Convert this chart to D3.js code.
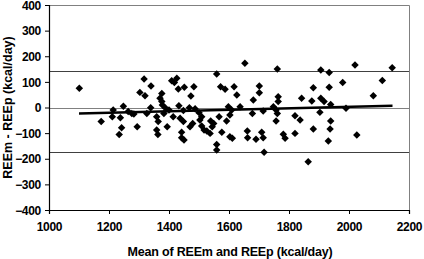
<!DOCTYPE html>
<html><head><meta charset="utf-8">
<script src="https://cdn.jsdelivr.net/npm/d3@7"></script>
<style>html,body{margin:0;padding:0;background:#fff;}svg{display:block;}</style>
</head><body>
<script>
const meanVals = [1101,1174,1211,1214,1238,1248,1242,1234,1264,1276,1283,1294,1303,1317,1320,1340,1326,1339,1359,1364,1359,1363,1376,1370,1376,1378,1389,1400,1409,1426,1418,1431,1451,1483,1473,1383,1394,1414,1433,1437,1448,1442,1442,1450,1468,1487,1470,1479,1448,1503,1509,1509,1517,1526,1537,1544,1539,1549,1559,1572,1587,1617,1626,1701,1701,1681,1598,1609,1637,1714,1678,1567,1603,1592,1576,1603,1611,1661,1662,1690,1709,1714,1717,1559,1559,1653,1761,1906,1934,1881,1934,1764,1764,1842,1876,1906,1917,1939,1748,1757,1761,1903,1757,1820,1837,1781,1787,1820,1881,1939,1937,1931,1864,2020,2144,1979,2111,2081,1990,2026,1500];
const diffVals = [75,-55,-36,-10,-40,5,-79,-105,-16,-23,-25,-75,59,111,46,84,-23,-1,-36,-55,-88,-105,55,36,23,10,-3,-10,104,114,98,72,79,81,45,-23,-75,-36,7,-42,-55,-97,-118,-127,-1,-5,-75,-62,-12,-49,-36,-72,-88,-92,-101,-75,-53,-62,131,81,71,81,49,84,58,29,3,-10,3,-14,-23,-36,-29,-53,-97,-114,-120,-92,-118,-124,-97,-118,-175,-144,-166,173,150,146,137,77,79,42,23,36,25,36,23,12,3,-10,-23,-19,-53,-32,-49,-104,-120,-101,-84,-53,-84,-131,-212,166,155,98,105,46,-3,-107,-20];
const limitVals = [141, 0, -172];
const regX = [1100, 2145];
const regY = [-23, 7];
const xTicks = [1000,1200,1400,1600,1800,2000,2200];
const yTicks = [-400,-300,-200,-100,0,100,200,300,400];
const xTitle = "Mean of REEm and REEp (kcal/day)";
const yTitle = "REEm - REEp (kcal/day)";

const W = 424, H = 259;
const L = 49, R = 409, T = 5, B = 210;
const svg = d3.select("body").append("svg").attr("width", W).attr("height", H);
const x = d3.scaleLinear().domain([1000, 2200]).range([L, R]);
const y = d3.scaleLinear().domain([-400, 400]).range([B, T]);
const font = "'Liberation Sans', Arial, sans-serif";

svg.append("path").attr("d", `M${L},${T+0.5}H${R+0.5}V${B}`).attr("fill","none").attr("stroke","#808080").attr("stroke-width",1);

svg.selectAll("line.lim").data(limitVals).enter().append("line")
  .attr("x1", L).attr("x2", R).attr("y1", d => Math.round(y(d))+0.5).attr("y2", d => Math.round(y(d))+0.5)
  .attr("stroke", d => d === 0 ? "#808080" : "#404040").attr("stroke-width", 1);

const sym = d3.symbol().type(d3.symbolSquare).size(28);
svg.selectAll("path.pt").data(meanVals.map((m,i)=>[m, diffVals[i]])).enter().append("path")
  .attr("d", sym).attr("fill","#000")
  .attr("transform", d => `translate(${x(d[0])},${y(d[1])}) rotate(45)`);

svg.append("line").attr("x1", x(regX[0])).attr("x2", x(regX[1])).attr("y1", y(regY[0])).attr("y2", y(regY[1]))
  .attr("stroke","#000").attr("stroke-width",2.5);

const xAxis = svg.append("g").attr("transform", `translate(0,${B})`)
  .call(d3.axisBottom(x).tickValues(xTicks).tickSize(4).tickFormat(d3.format("d")));
const yAxis = svg.append("g").attr("transform", `translate(${L},0)`)
  .call(d3.axisLeft(y).tickValues(yTicks).tickSize(4).tickFormat(d3.format("d")));
[xAxis, yAxis].forEach(g => {
  g.select(".domain").attr("stroke","#000").attr("stroke-width",1.2);
  g.selectAll(".tick line").attr("stroke","#000");
  g.selectAll("text").attr("font-family", font).attr("font-size", 12).attr("font-weight","bold").attr("fill","#000").attr("letter-spacing","-0.3");
});
xAxis.selectAll("text").attr("y", 12).attr("dy", "0.71em");
yAxis.selectAll("text").attr("x", -8).attr("dy","0.35em");

svg.append("text").attr("x", (126+334)/2).attr("y", 256).attr("text-anchor","middle")
  .attr("font-family", font).attr("font-size", 12.5).attr("font-weight","bold").attr("letter-spacing","-0.2").text(xTitle);
svg.append("text").attr("transform", `translate(11.5,${(T+B)/2}) rotate(-90)`).attr("text-anchor","middle")
  .attr("font-family", font).attr("font-size", 12.5).attr("font-weight","bold").text(yTitle);
</script>
</body></html>
